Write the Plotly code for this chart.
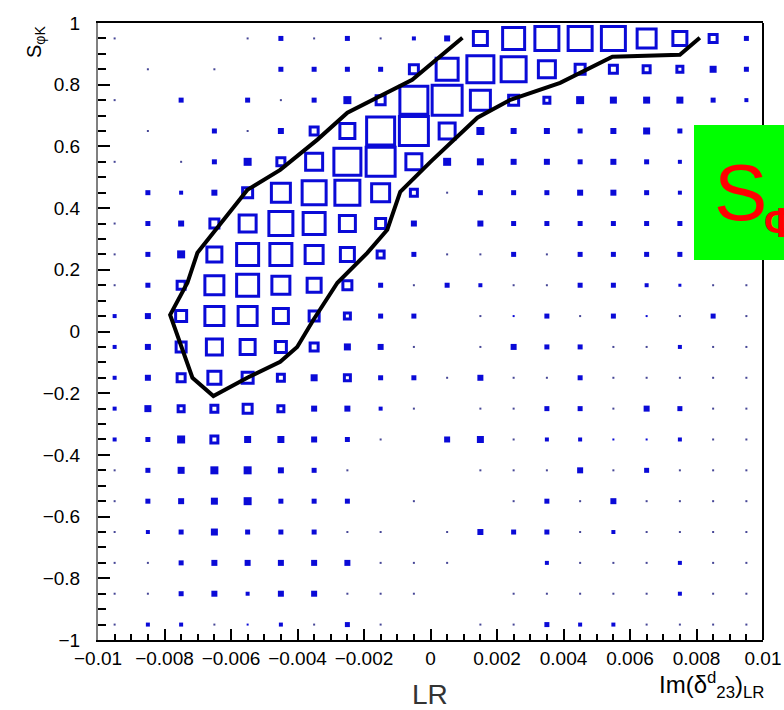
import plotly.graph_objects as go

# bin centres
x_centers = [-0.0095, -0.0085, -0.0075, -0.0065, -0.0055, -0.0045, -0.0035, -0.0025, -0.0015, -0.0005,
             0.0005, 0.0015, 0.0025, 0.0035, 0.0045, 0.0055, 0.0065, 0.0075, 0.0085, 0.0095]
y_centers = [0.95, 0.85, 0.75, 0.65, 0.55, 0.45, 0.35, 0.25, 0.15, 0.05,
             -0.05, -0.15, -0.25, -0.35, -0.45, -0.55, -0.65, -0.75, -0.85, -0.95]

# bin contents (box size), rows from top (0.95) to bottom (-0.95)
counts = [
    [1, 0, 0, 0, 1, 5, 1, 5, 1, 4, 6, 17, 25, 27, 27, 27, 22, 17, 11, 5],
    [0, 1, 0, 1, 0, 5, 5, 5, 5, 12, 25, 30, 28, 20, 13, 11, 10, 9, 7, 5],
    [1, 0, 5, 0, 5, 1, 5, 8, 12, 31, 33, 23, 13, 9, 8, 7, 7, 7, 5, 4],
    [0, 1, 0, 5, 1, 6, 11, 18, 31, 32, 19, 8, 6, 6, 5, 6, 7, 5, 5, 5],
    [1, 0, 1, 5, 8, 11, 20, 30, 32, 19, 8, 7, 6, 6, 5, 6, 5, 4, 5, 4],
    [0, 5, 4, 6, 13, 22, 27, 28, 21, 10, 1, 5, 5, 5, 6, 6, 5, 4, 5, 4],
    [1, 5, 6, 12, 20, 27, 25, 19, 13, 6, 0, 6, 5, 5, 5, 5, 5, 5, 4, 4],
    [1, 5, 8, 18, 25, 25, 21, 17, 10, 5, 1, 1, 5, 1, 5, 5, 5, 5, 4, 4],
    [1, 5, 11, 22, 25, 21, 17, 12, 5, 1, 5, 4, 1, 1, 5, 5, 4, 3, 1, 1],
    [4, 6, 14, 22, 22, 18, 13, 9, 5, 5, 0, 1, 2, 5, 1, 5, 2, 1, 5, 1],
    [4, 6, 13, 19, 18, 14, 11, 7, 6, 1, 0, 1, 6, 5, 5, 1, 1, 4, 1, 1],
    [4, 6, 11, 16, 14, 10, 7, 9, 5, 5, 1, 6, 1, 1, 5, 1, 1, 1, 1, 1],
    [4, 7, 9, 10, 12, 9, 6, 6, 4, 1, 0, 1, 1, 5, 5, 1, 6, 5, 1, 1],
    [4, 5, 8, 10, 7, 7, 6, 5, 1, 0, 6, 7, 1, 4, 4, 2, 2, 4, 1, 1],
    [1, 5, 7, 8, 8, 6, 5, 1, 0, 0, 0, 1, 1, 1, 6, 1, 5, 1, 1, 1],
    [1, 5, 6, 7, 8, 5, 5, 5, 0, 1, 0, 0, 1, 5, 1, 6, 1, 1, 1, 1],
    [1, 4, 5, 7, 5, 5, 5, 1, 1, 0, 1, 6, 5, 5, 1, 4, 1, 1, 1, 1],
    [1, 1, 5, 6, 6, 6, 6, 6, 1, 1, 1, 0, 0, 4, 1, 1, 1, 4, 1, 1],
    [1, 1, 5, 6, 4, 6, 6, 1, 1, 1, 0, 0, 1, 1, 1, 1, 1, 4, 1, 1],
    [1, 4, 4, 1, 2, 4, 1, 5, 1, 0, 0, 1, 1, 5, 4, 4, 1, 1, 1, 1],
]

# contour curve
contour_x = [0.00096, -0.00055, -0.0025, -0.0034, -0.00452, -0.00551, -0.00701, -0.00731, -0.00783,
             -0.00752, -0.00716, -0.00653, -0.00551, -0.00452, -0.00401, -0.00352, -0.0028, -0.0019,
             -0.0013, -0.00091, 0.0, 0.00141, 0.0024, 0.0039, 0.00547, 0.0075, 0.0081]
contour_y = [0.952, 0.816, 0.709, 0.622, 0.524, 0.459, 0.255, 0.158, 0.054,
             -0.037, -0.150, -0.209, -0.150, -0.098, -0.050, 0.038, 0.158, 0.255,
             0.330, 0.453, 0.550, 0.693, 0.751, 0.806, 0.891, 0.897, 0.952]

x_ticks = [-0.01, -0.008, -0.006, -0.004, -0.002, 0, 0.002, 0.004, 0.006, 0.008, 0.01]
x_ticklabels = ["\u22120.01", "\u22120.008", "\u22120.006", "\u22120.004", "\u22120.002", "0",
                "0.002", "0.004", "0.006", "0.008", "0.01"]
y_ticks = [-1, -0.8, -0.6, -0.4, -0.2, 0, 0.2, 0.4, 0.6, 0.8, 1]
y_ticklabels = ["\u22121", "\u22120.8", "\u22120.6", "\u22120.4", "\u22120.2", "0",
                "0.2", "0.4", "0.6", "0.8", "1"]

BLUE = "rgb(10,10,215)"
LW = 3

hx, hy, hs = [], [], []
fx, fy, fs = [], [], []
tx, ty = [], []
for r, yc in enumerate(y_centers):
    for c, xc in enumerate(x_centers):
        v = counts[r][c]
        if v == 0:
            continue
        if v >= 9:
            hx.append(xc); hy.append(yc); hs.append(v - LW)
        elif v >= 2:
            fx.append(xc); fy.append(yc); fs.append(v)
        else:
            tx.append(xc); ty.append(yc)

fig = go.Figure()
fig.add_trace(go.Scatter(x=tx, y=ty, mode="markers",
                         marker=dict(symbol="square", size=2, color="rgb(70,70,150)", opacity=1,
                                     line=dict(width=0)),
                         hoverinfo="skip", showlegend=False))
fig.add_trace(go.Scatter(x=fx, y=fy, mode="markers",
                         marker=dict(symbol="square", size=fs, color=BLUE, opacity=1, line=dict(width=0)),
                         hoverinfo="skip", showlegend=False))
fig.add_trace(go.Scatter(x=hx, y=hy, mode="markers",
                         marker=dict(symbol="square-open", size=hs, color=BLUE, opacity=1,
                                     line=dict(width=LW, color=BLUE)),
                         hoverinfo="skip", showlegend=False))
fig.add_trace(go.Scatter(x=contour_x, y=contour_y, mode="lines",
                         line=dict(color="black", width=4), hoverinfo="skip", showlegend=False))

W, H = 784, 710
L, R, T, B = 98, 21, 23, 70
pw, ph = W - L - R, H - T - B

def px(xp):
    return (xp - L) / pw

def py(yp):
    return (H - B - yp) / ph

fig.update_layout(
    template="none",
    width=W, height=H,
    margin=dict(l=L, r=R, t=T, b=B, pad=0),
    paper_bgcolor="white", plot_bgcolor="white",
    font=dict(family="Liberation Sans, Arial, sans-serif", size=19, color="black"),
    xaxis=dict(range=[-0.01, 0.01], tickvals=x_ticks, ticktext=x_ticklabels, automargin=False,
               ticks="inside", ticklen=11, tickwidth=2, tickcolor="black",
               minor=dict(dtick=0.0005, tick0=0, ticks="inside", ticklen=6, tickwidth=1.5, tickcolor="black",
                          showgrid=False),
               showgrid=False, zeroline=False, showline=True, linecolor="black", linewidth=2,
               mirror=True),
    yaxis=dict(range=[-1, 1], tickvals=y_ticks, ticktext=y_ticklabels, automargin=False,
               ticks="inside", ticklen=12, tickwidth=2, tickcolor="black",
               minor=dict(dtick=0.05, tick0=0, ticks="inside", ticklen=8, tickwidth=1.5, tickcolor="black",
                          showgrid=False),
               showgrid=False, zeroline=False, showline=True, linecolor="gray", linewidth=2,
               mirror=False, ticklabelstandoff=12),
)

shapes = [
    dict(type="line", xref="paper", yref="paper", x0=1, x1=1, y0=0, y1=1,
         line=dict(color="black", width=2)),
    dict(type="rect", xref="paper", yref="paper", x0=px(694), x1=px(800), y0=py(260), y1=py(125),
         fillcolor="#00ff00", line=dict(width=0), layer="above"),
]
fig.update_layout(shapes=shapes)

fig.add_annotation(text="S<sub>\u03c6K</sub>", xref="paper", yref="paper", x=px(35), y=py(24),
                   xanchor="center", yanchor="top", textangle=-90, showarrow=False,
                   font=dict(size=20, color="black"))
fig.add_annotation(text="Im(\u03b4<sup>d</sup><sub>23</sub>)<sub>LR</sub>", xref="paper", yref="paper",
                   x=px(766), y=py(685), xanchor="right", yanchor="middle", showarrow=False,
                   font=dict(size=24, color="black"))
fig.add_annotation(text="LR", xref="paper", yref="paper", x=px(430), y=py(694),
                   xanchor="center", yanchor="middle", showarrow=False,
                   font=dict(size=28, color="#333333"))
fig.add_annotation(text="S", xref="paper", yref="paper", x=px(712), y=py(192),
                   xanchor="left", yanchor="middle", showarrow=False,
                   font=dict(size=80, color="#ff0000"))
fig.add_annotation(text="<b>\u03a6</b>", xref="paper", yref="paper", x=px(762), y=py(222),
                   xanchor="left", yanchor="middle", showarrow=False,
                   font=dict(size=42, color="#ff0000"))

fig.write_html("out.html")
